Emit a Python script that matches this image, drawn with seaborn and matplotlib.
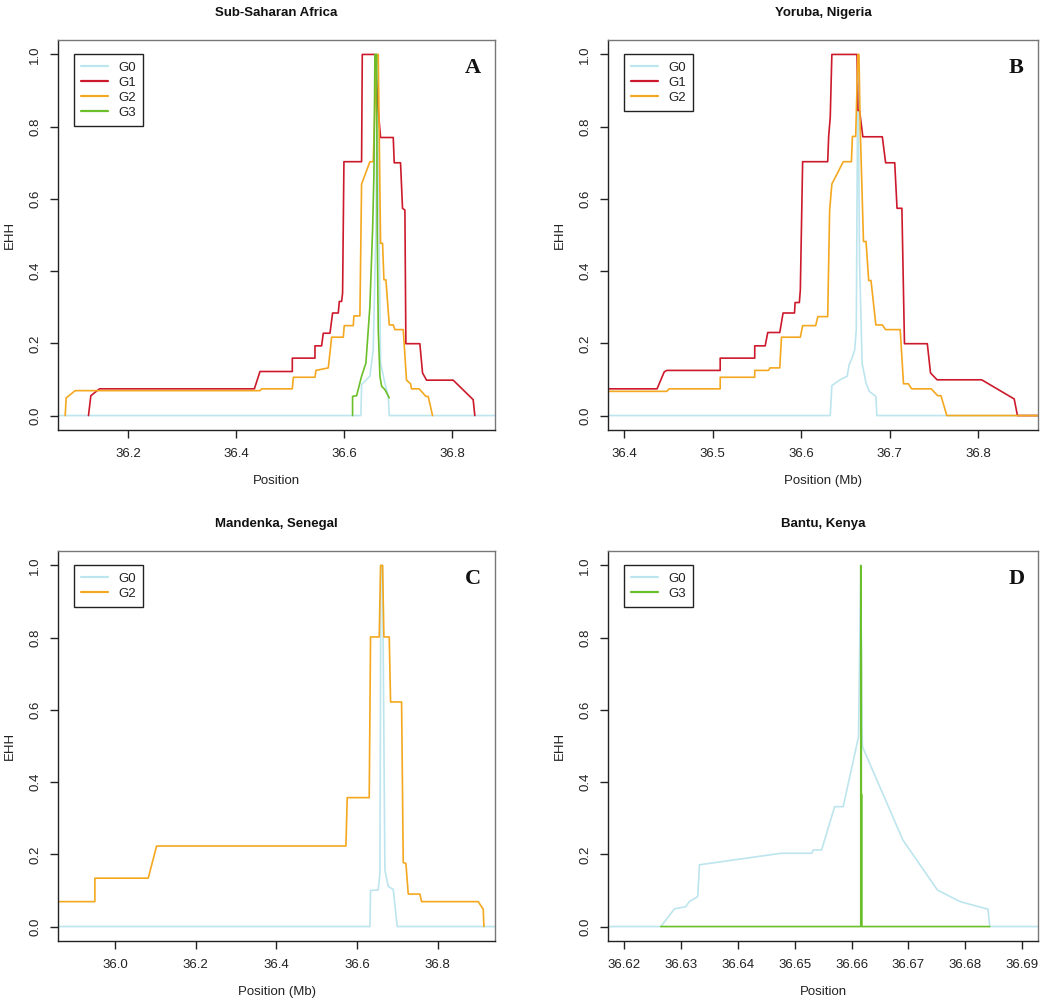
import numpy as np
import pandas as pd
import matplotlib
matplotlib.use('Agg')
import matplotlib.pyplot as plt
import seaborn as sns
from matplotlib.lines import Line2D

# ---- data (position in Mb, EHH) ----
# A: Sub-Saharan Africa
A_G0_x = [36.06, 36.6315, 36.6327, 36.6481, 36.6543, 36.6593, 36.6617, 36.6654, 36.6679, 36.6759, 36.6821, 36.684, 36.89]
A_G0_y = [0, 0, 0.086, 0.109, 0.182, 0.514, 1.0, 0.477, 0.145, 0.09, 0.053, 0, 0]
A_G1_x = [36.1265, 36.1309, 36.1469, 36.4340, 36.4444, 36.5043, 36.5043, 36.5463, 36.5463, 36.5586,
          36.5617, 36.5741, 36.5790, 36.5895, 36.5914, 36.5957, 36.5975, 36.6000, 36.6327, 36.6340,
          36.6574, 36.6636, 36.6679, 36.6914, 36.6932, 36.7049, 36.7086, 36.7130, 36.7148, 36.7407,
          36.7457, 36.7531, 36.8025, 36.8395, 36.8426]
A_G1_y = [0, 0.055, 0.074, 0.074, 0.122, 0.122, 0.159, 0.159, 0.193, 0.193,
          0.228, 0.228, 0.284, 0.284, 0.316, 0.316, 0.339, 0.703, 0.703, 1.0,
          1.0, 0.845, 0.770, 0.770, 0.700, 0.700, 0.574, 0.569, 0.199, 0.199,
          0.118, 0.098, 0.098, 0.044, 0]
A_G2_x = [36.0833, 36.0852, 36.1019, 36.4444, 36.4475, 36.5043, 36.5062, 36.5463, 36.5481, 36.5710,
          36.5772, 36.5988, 36.6006, 36.6173, 36.6185, 36.6296, 36.6327, 36.6481, 36.6543, 36.6605,
          36.6636, 36.6679, 36.6716, 36.6741, 36.6778, 36.6840, 36.6914, 36.6944, 36.7099, 36.7160,
          36.7235, 36.7253, 36.7395, 36.7519, 36.7562, 36.7642]
A_G2_y = [0, 0.049, 0.069, 0.069, 0.074, 0.074, 0.106, 0.106, 0.125, 0.132,
          0.217, 0.217, 0.249, 0.249, 0.276, 0.276, 0.641, 0.703, 0.703, 1.0,
          1.0, 0.477, 0.477, 0.376, 0.376, 0.251, 0.251, 0.238, 0.238, 0.098,
          0.088, 0.074, 0.074, 0.053, 0.053, 0]
A_G3_x = [36.6160, 36.6160, 36.6235, 36.6327, 36.6407, 36.6481, 36.6531, 36.6556, 36.6574, 36.6605,
          36.6617, 36.6636, 36.6667, 36.6698, 36.6759, 36.6840]
A_G3_y = [0, 0.053, 0.055, 0.109, 0.145, 0.302, 0.514, 0.670, 1.0, 1.0,
          0.514, 0.238, 0.109, 0.081, 0.072, 0.049]

# B: Yoruba, Nigeria
B_G0_x = [36.37, 36.6328, 36.6346, 36.6438, 36.6519, 36.6541, 36.6567, 36.6604, 36.6622, 36.6640,
          36.6659, 36.6688, 36.6732, 36.6769, 36.6843, 36.6854, 36.88]
B_G0_y = [0, 0, 0.083, 0.099, 0.109, 0.141, 0.155, 0.182, 0.238, 1.0,
          0.422, 0.145, 0.090, 0.067, 0.053, 0, 0]
B_G1_x = [36.37, 36.4372, 36.4453, 36.4482, 36.5085, 36.5085, 36.5475, 36.5475, 36.5593, 36.5622,
          36.5758, 36.5795, 36.5924, 36.5931, 36.5979, 36.5990, 36.6016, 36.6299, 36.6310, 36.6328,
          36.6346, 36.6630, 36.6640, 36.6659, 36.6696, 36.6916, 36.6953, 36.7056, 36.7082, 36.7137,
          36.7166, 36.7424, 36.7460, 36.7534, 36.8038, 36.8405, 36.8442, 36.88]
B_G1_y = [0.074, 0.074, 0.121, 0.125, 0.125, 0.159, 0.159, 0.193, 0.193, 0.230,
          0.230, 0.284, 0.284, 0.313, 0.313, 0.348, 0.703, 0.703, 0.773, 0.827,
          1.0, 1.0, 0.845, 0.845, 0.772, 0.772, 0.700, 0.700, 0.574, 0.574,
          0.199, 0.199, 0.118, 0.099, 0.099, 0.046, 0, 0]
B_G2_x = [36.37, 36.4482, 36.4508, 36.5085, 36.5085, 36.5475, 36.5475, 36.5630, 36.5648, 36.5758,
          36.5777, 36.5990, 36.6016, 36.6163, 36.6188, 36.6299, 36.6321, 36.6346, 36.6475, 36.6567,
          36.6578, 36.6615, 36.6640, 36.6652, 36.6666, 36.6703, 36.6732, 36.6762, 36.6788, 36.6843,
          36.6916, 36.6953, 36.7118, 36.7155, 36.7210, 36.7247, 36.7468, 36.7541, 36.7578, 36.7644, 36.88]
B_G2_y = [0.067, 0.067, 0.074, 0.074, 0.106, 0.106, 0.125, 0.125, 0.132, 0.132,
          0.217, 0.217, 0.249, 0.249, 0.274, 0.274, 0.569, 0.641, 0.703, 0.703,
          0.773, 0.773, 1.0, 1.0, 0.799, 0.482, 0.482, 0.374, 0.374, 0.251,
          0.251, 0.238, 0.238, 0.088, 0.088, 0.074, 0.074, 0.055, 0.055, 0, 0]

# C: Mandenka, Senegal
C_G0_x = [35.85, 36.6320, 36.6336, 36.6526, 36.6568, 36.6592, 36.6634, 36.6691, 36.6774, 36.6898, 36.6997, 36.95]
C_G0_y = [0, 0, 0.100, 0.101, 0.147, 1.0, 1.0, 0.157, 0.111, 0.103, 0, 0]
C_G2_x = [35.85, 35.9504, 35.9504, 36.0826, 36.1033, 36.5725, 36.5758, 36.6303, 36.6336, 36.6551,
          36.6584, 36.6634, 36.6667, 36.6799, 36.6832, 36.7105, 36.7146, 36.7212, 36.7270, 36.7559,
          36.7600, 36.9004, 36.9128, 36.9145]
C_G2_y = [0.069, 0.069, 0.134, 0.134, 0.223, 0.223, 0.357, 0.357, 0.802, 0.802,
          1.0, 1.0, 0.802, 0.802, 0.622, 0.622, 0.177, 0.175, 0.090, 0.090,
          0.069, 0.069, 0.048, 0]

# D: Bantu, Kenya
D_G0_x = [36.615, 36.6264, 36.6288, 36.6308, 36.6314, 36.6329, 36.6332, 36.6476, 36.6530, 36.6532,
          36.6547, 36.6570, 36.6585, 36.6612, 36.6616, 36.6618, 36.6619, 36.6690, 36.6751, 36.6791,
          36.6840, 36.6843, 36.695]
D_G0_y = [0, 0, 0.049, 0.055, 0.069, 0.083, 0.171, 0.203, 0.203, 0.212,
          0.212, 0.332, 0.332, 0.525, 1.0, 0.553, 0.498, 0.240, 0.101, 0.069,
          0.048, 0, 0]
D_G3_x = [36.6264, 36.6616, 36.6616, 36.6617, 36.6617, 36.6618, 36.6618, 36.6843]
D_G3_y = [0, 0, 1.0, 0.733, 0.365, 0.365, 0, 0]

A_ticks = [36.2, 36.4, 36.6, 36.8]
B_ticks = [36.4, 36.5, 36.6, 36.7, 36.8]
C_ticks = [36.0, 36.2, 36.4, 36.6, 36.8]
D_ticks = [36.62, 36.63, 36.64, 36.65, 36.66, 36.67, 36.68, 36.69]
y_ticks = [0.0, 0.2, 0.4, 0.6, 0.8, 1.0]

colors = {'G0': '#bde5ee', 'G1': '#cc1a2c', 'G2': '#f4a820', 'G3': '#6bbf2a'}

panels = [
    dict(title='Sub-Saharan Africa', letter='A', xlabel='Position', xlim=(36.070, 36.880),
         ticks=A_ticks, fmt='%.1f',
         series=[('G0', A_G0_x, A_G0_y), ('G1', A_G1_x, A_G1_y), ('G2', A_G2_x, A_G2_y), ('G3', A_G3_x, A_G3_y)],
         rect=[58, 40, 495, 430]),
    dict(title='Yoruba, Nigeria', letter='B', xlabel='Position (Mb)', xlim=(36.3818, 36.8674),
         ticks=B_ticks, fmt='%.1f',
         series=[('G0', B_G0_x, B_G0_y), ('G1', B_G1_x, B_G1_y), ('G2', B_G2_x, B_G2_y)],
         rect=[608, 40, 1038, 430]),
    dict(title='Mandenka, Senegal', letter='C', xlabel='Position (Mb)', xlim=(35.859, 36.942),
         ticks=C_ticks, fmt='%.1f',
         series=[('G0', C_G0_x, C_G0_y), ('G2', C_G2_x, C_G2_y)],
         rect=[58, 551, 495, 941]),
    dict(title='Bantu, Kenya', letter='D', xlabel='Position', xlim=(36.6171, 36.6928),
         ticks=D_ticks, fmt='%.2f',
         series=[('G0', D_G0_x, D_G0_y), ('G3', D_G3_x, D_G3_y)],
         rect=[608, 551, 1038, 941]),
]

sns.set_theme(style='white')
plt.rcParams['font.family'] = ['Liberation Sans', 'DejaVu Sans']

W, H = 1050, 1006
fig = plt.figure(figsize=(W / 100, H / 100), dpi=100)

for p in panels:
    l, t, r, b = p['rect']
    ax = fig.add_axes([l / W, 1 - b / H, (r - l) / W, (b - t) / H])
    handles = []
    for name, xs, ys in p['series']:
        df = pd.DataFrame({'pos': xs, 'ehh': ys})
        sns.lineplot(data=df, x='pos', y='ehh', sort=False, estimator=None,
                     color=colors[name], lw=1.2, ax=ax)
        handles.append(Line2D([0], [0], color=colors[name], lw=1.6))
    ax.set_xlim(*p['xlim'])
    ax.set_ylim(-0.04, 1.04)
    ax.set_xticks(p['ticks'])
    ax.set_xticklabels([p['fmt'] % v for v in p['ticks']])
    ax.set_yticks(y_ticks)
    ax.set_yticklabels(['%.1f' % v for v in y_ticks], rotation=90, va='center')
    ax.tick_params(axis='both', direction='out', length=6, width=1, color='#222222',
                   labelsize=9.5, labelcolor='#222222', bottom=True, left=True)
    ax.tick_params(axis='x', pad=7)
    ax.tick_params(axis='y', pad=6)
    for side, sp in ax.spines.items():
        sp.set_visible(True)
        sp.set_linewidth(1.0)
        sp.set_color('#222222' if side in ('left', 'bottom') else '#777777')
    ax.set_xlabel(p['xlabel'], fontsize=9.5, labelpad=11, color='#222222')
    ax.set_ylabel('EHH', fontsize=9.5, labelpad=10, color='#222222')
    ax.set_title(p['title'], fontsize=9.5, fontweight='bold', pad=17, color='#111111')
    ax.text(0.95, 0.927, p['letter'], transform=ax.transAxes, ha='center', va='center',
            fontsize=16, fontweight='bold', family=['Liberation Serif', 'DejaVu Serif'], color='#111111')
    leg = ax.legend(handles, [s[0] for s in p['series']], loc='upper left',
                    bbox_to_anchor=(0.037, 0.964), borderaxespad=0, fontsize=9.5,
                    frameon=True, fancybox=False, framealpha=1, edgecolor='#222222',
                    borderpad=0.55, labelspacing=0.22, handlelength=2.0, handletextpad=0.8)
    leg.get_frame().set_linewidth(1.0)
    for txt in leg.get_texts():
        txt.set_color('#222222')

fig.savefig('out.png', dpi=100, facecolor='white')
